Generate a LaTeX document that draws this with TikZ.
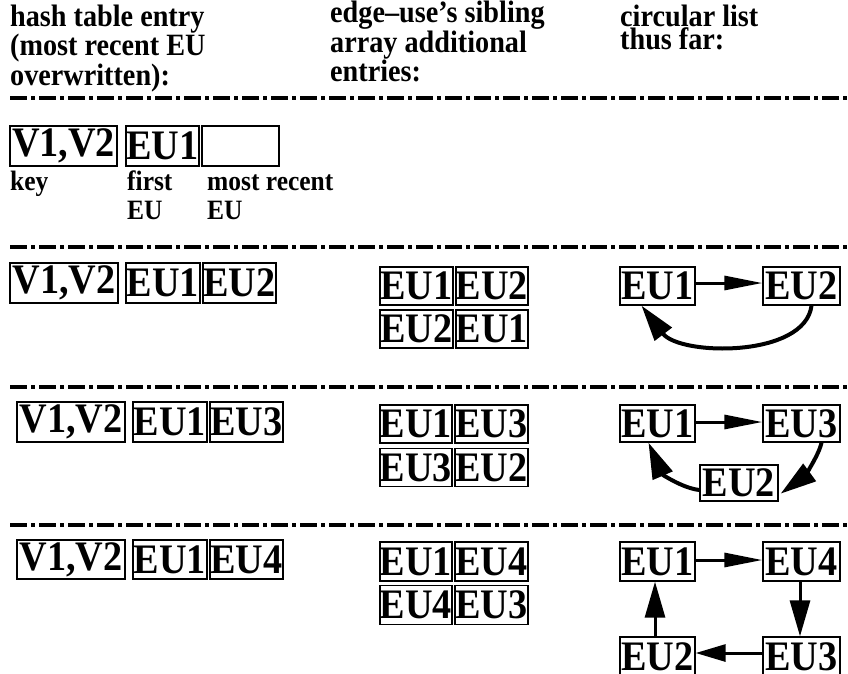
\documentclass[tikz,border=0pt]{standalone}
\usepackage{fontspec}
\setmainfont{Liberation Serif}[FakeStretch=0.91]
\usetikzlibrary{arrows.meta}
\begin{document}
\begin{tikzpicture}[x=1pt,y=-1pt,
  box/.style={draw, line width=1.3pt, inner sep=0pt, minimum height=39pt,
    font=\fontsize{42}{43}\selectfont\bfseries},
  hdr/.style={anchor=north west, inner sep=0pt, align=left,
    font=\fontsize{31}{23}\selectfont\bfseries},
  lbl/.style={anchor=base west, inner sep=0pt,
    font=\fontsize{28}{28}\selectfont\bfseries},
  sep/.style={line width=4pt, dash pattern=on 17pt off 4pt on 4pt off 4pt},
  arr/.style={line width=3pt, -{Triangle[length=38pt,width=14pt]}},
  varr/.style={line width=3pt, -{Triangle[length=36pt,width=20pt]}},
  carr/.style={line width=4pt, -{Triangle[length=36pt,width=21pt]}}]
\clip (0,0) rectangle (848,673);
% headers
\node[hdr] (h1) at (10,5) {hash table entry\\(most recent EU\\overwritten):};
\node[hdr] (h2) at (330,1) {edge--use's sibling\\array additional\\entries:};
\node[hdr] (h3) at (620,5) {circular list\\thus far:};
% separators
\coordinate (s1a) at (10,98);  \coordinate (s1b) at (848,98);
\coordinate (s2a) at (10,247); \coordinate (s2b) at (848,247);
\coordinate (s3a) at (10,387); \coordinate (s3b) at (848,387);
\coordinate (s4a) at (10,525); \coordinate (s4b) at (848,525);
\draw[sep] (s1a) -- (s1b);
\draw[sep] (s2a) -- (s2b);
\draw[sep] (s3a) -- (s3b);
\draw[sep] (s4a) -- (s4b);
% row 1
\node[box, minimum width=107pt, minimum height=40pt] (k1) at (63.5,146) {V1,V2};
\node[box, minimum width=73pt, minimum height=40pt] (f1) at (162.5,146) {EU1};
\node[box, minimum width=77pt, minimum height=40pt] (m1) at (240.5,146) {};
\node[lbl] (lk) at (10,190) {key};
\node[lbl] (lf) at (127,190) {first};
\node[lbl] (lm) at (207,190) {most recent};
\node[lbl] (lf2) at (127,219) {EU};
\node[lbl] (lm2) at (207,219) {EU};
% row 2
\node[box, minimum width=108pt, minimum height=40pt] (k2) at (64,283) {V1,V2};
\node[box, minimum width=74pt, minimum height=40pt] (f2) at (163,283) {EU1};
\node[box, minimum width=73pt, minimum height=40pt] (m2) at (239.5,283) {EU2};
\node[box, minimum width=73pt, minimum height=38pt] (a2a) at (416.5,286) {EU1};
\node[box, minimum width=72pt, minimum height=38pt] (a2b) at (492,286) {EU2};
\node[box, minimum width=73pt, minimum height=38pt] (a2c) at (416.5,329) {EU2};
\node[box, minimum width=72pt, minimum height=38pt] (a2d) at (492,329) {EU1};
\node[box, minimum width=75pt, minimum height=38pt] (c2a) at (657.5,286) {EU1};
\node[box, minimum width=77pt, minimum height=38pt] (c2b) at (801.5,286) {EU2};
\draw[arr] ([yshift=3pt]c2a.east) -- ([yshift=3pt]c2b.west);
\draw[carr] ([xshift=10pt]c2b.south) .. controls (805,358) and (680,356) .. ([xshift=-16pt]c2a.south);
% row 3
\node[box, minimum width=108pt, minimum height=40pt] (k3) at (71,422) {V1,V2};
\node[box, minimum width=74pt, minimum height=40pt] (f3) at (170,422) {EU1};
\node[box, minimum width=73pt, minimum height=40pt] (m3) at (246.5,422) {EU3};
\node[box, minimum width=72pt, minimum height=38pt] (a3a) at (416,424) {EU1};
\node[box, minimum width=73pt, minimum height=38pt] (a3b) at (491.5,424) {EU3};
\node[box, minimum width=72pt, minimum height=38pt] (a3c) at (416,467.5) {EU3};
\node[box, minimum width=73pt, minimum height=38pt] (a3d) at (491.5,467.5) {EU2};
\node[box, minimum width=75pt, minimum height=37pt] (c3a) at (657.5,423.5) {EU1};
\node[box, minimum width=77pt, minimum height=37pt] (c3b) at (801.5,423.5) {EU3};
\node[box, minimum width=78pt, minimum height=36pt] (c3c) at (739,483) {EU2};
\draw[arr] ([yshift=1.5pt]c3a.east) -- ([yshift=1.5pt]c3b.west);
\draw[carr] ([xshift=20pt]c3b.south) .. controls (818,458) and (802,478) .. ([xshift=2pt,yshift=8pt]c3c.south east);
\draw[carr] ([yshift=-7pt]c3c.west) .. controls (682,488) and (662,474) .. ([xshift=-9pt]c3a.south);
% row 4
\node[box, minimum width=108pt, minimum height=39pt] (k4) at (71,559.5) {V1,V2};
\node[box, minimum width=74pt, minimum height=39pt] (f4) at (170,559.5) {EU1};
\node[box, minimum width=73pt, minimum height=39pt] (m4) at (246.5,559.5) {EU4};
\node[box, minimum width=72pt, minimum height=39pt] (a4a) at (416,561.5) {EU1};
\node[box, minimum width=73pt, minimum height=39pt] (a4b) at (491.5,561.5) {EU4};
\node[box, minimum width=72pt, minimum height=39pt] (a4c) at (416,605) {EU4};
\node[box, minimum width=73pt, minimum height=39pt] (a4d) at (491.5,605) {EU3};
\node[box, minimum width=75pt, minimum height=39pt] (c4a) at (657.5,561.5) {EU1};
\node[box, minimum width=77pt, minimum height=39pt] (c4b) at (801.5,561.5) {EU4};
\node[box, minimum width=75pt, minimum height=40pt] (c4d) at (657.5,657) {EU2};
\node[box, minimum width=77pt, minimum height=40pt] (c4c) at (801.5,657) {EU3};
\draw[arr] ([yshift=1.5pt]c4a.east) -- ([yshift=1.5pt]c4b.west);
\draw[varr] ([xshift=-1.5pt]c4b.south) -- ([xshift=-1.5pt]c4c.north);
\draw[line width=3pt, -{Triangle[length=30pt,width=17pt]}] ([yshift=4pt]c4c.west) -- ([yshift=4pt]c4d.east);
\draw[varr] ([xshift=-2.5pt]c4d.north) -- ([xshift=-2.5pt]c4a.south);
\end{tikzpicture}
\end{document}
